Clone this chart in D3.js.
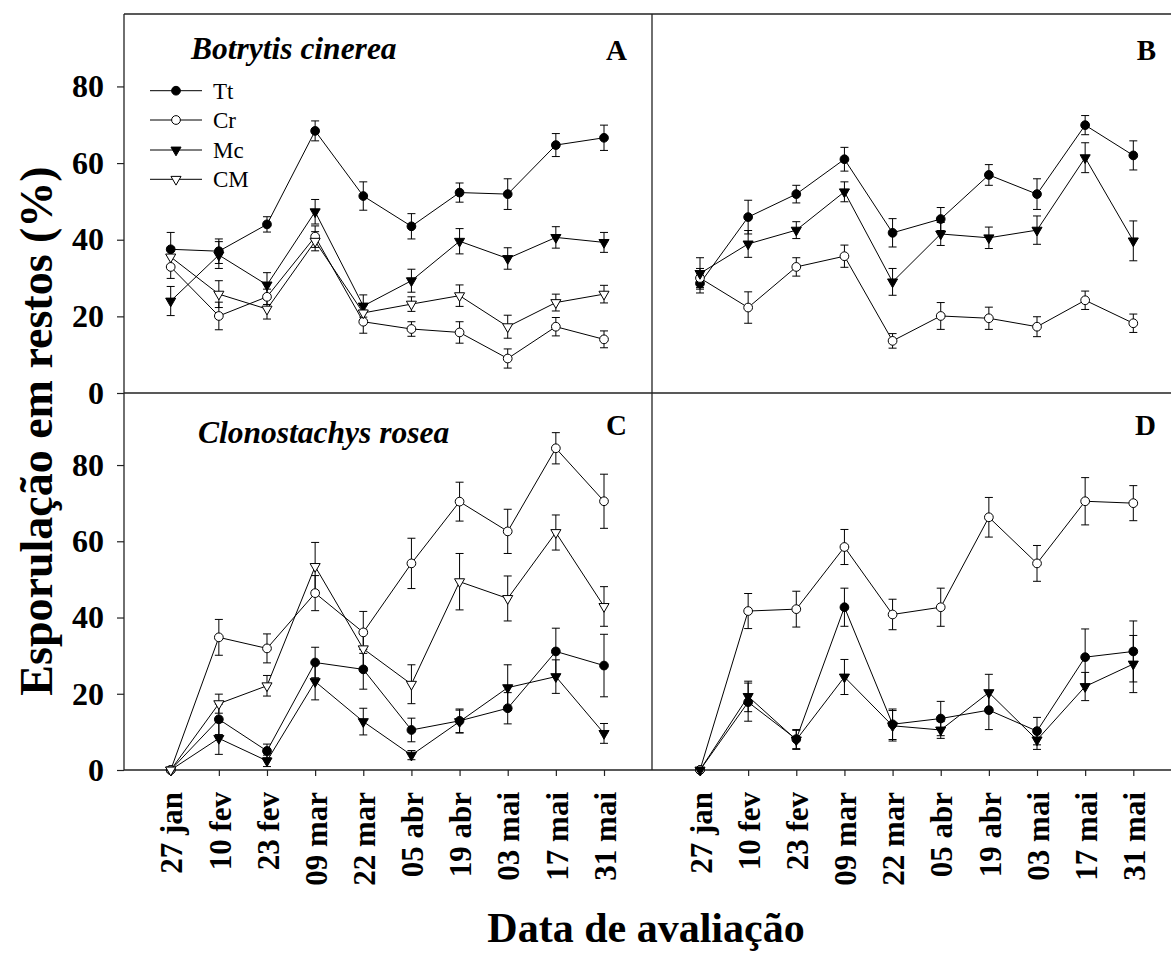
<!DOCTYPE html>
<html>
<head>
<meta charset="utf-8">
<script src="https://cdn.jsdelivr.net/npm/d3@7/dist/d3.min.js"></script>
<style>
  html, body { margin: 0; padding: 0; background: #fff; }
  svg { display: block; }
  text { font-family: "Liberation Serif", serif; fill: #000; }
</style>
</head>
<body>
<svg id="chart" width="1171" height="970"></svg>
<script>
// Evaluation dates (x categories)
const dates = ["27 jan", "10 fev", "23 fev", "09 mar", "22 mar", "05 abr", "19 abr", "03 mai", "17 mai", "31 mai"];
const yTicks = [0, 20, 40, 60, 80];
const seriesNames = ["Tt", "Cr", "Mc", "CM"];

// Panel A – Botrytis cinerea, first assessment
const aTt    = [37.5, 37.0, 44.0, 68.4, 51.4, 43.5, 52.3, 51.9, 64.7, 66.6];
const aTtErr = [4.4, 3.2, 2.0, 2.6, 3.7, 3.3, 2.5, 4.0, 3.0, 3.3];
const aCr    = [32.9, 20.1, 25.1, 40.8, 18.6, 16.7, 15.8, 9.0, 17.3, 14.0];
const aCrErr = [3.0, 3.6, 2.0, 2.8, 3.0, 1.9, 2.8, 2.5, 2.4, 2.2];
const aMc    = [24.0, 36.0, 28.2, 47.3, 22.7, 29.3, 39.6, 35.1, 40.6, 39.3];
const aMcErr = [3.8, 3.5, 3.2, 3.2, 2.9, 3.0, 3.3, 2.8, 2.8, 2.6];
const aCM    = [35.5, 25.8, 21.9, 39.6, 20.9, 23.2, 25.4, 17.3, 23.6, 25.8];
const aCMErr = [2.5, 3.5, 2.6, 2.5, 2.0, 1.9, 2.8, 3.0, 2.2, 2.3];

// Panel B – Botrytis cinerea, second assessment
const bTt    = [28.6, 45.9, 51.9, 61.0, 41.8, 45.4, 56.9, 51.9, 69.9, 62.0];
const bTtErr = [2.5, 4.4, 2.3, 3.1, 3.7, 3.0, 2.7, 4.0, 2.5, 3.8];
const bCr    = [30.0, 22.3, 32.9, 35.7, 13.6, 20.1, 19.5, 17.3, 24.2, 18.2];
const bCrErr = [2.5, 4.1, 2.4, 2.9, 1.9, 3.5, 2.9, 2.6, 2.4, 2.4];
const bMc    = [31.2, 38.9, 42.5, 52.5, 29.0, 41.5, 40.5, 42.5, 61.4, 39.7];
const bMcErr = [4.1, 3.5, 2.2, 2.6, 3.5, 3.0, 2.8, 3.7, 3.9, 5.2];

// Panel C – Clonostachys rosea, first assessment
const cTt    = [0, 13.3, 5.0, 28.2, 26.4, 10.5, 12.9, 16.2, 31.1, 27.4];
const cTtErr = [0, 4.0, 1.8, 4.0, 5.2, 3.1, 3.1, 4.1, 6.1, 8.2];
const cCr    = [0, 34.8, 31.9, 46.4, 36.1, 54.2, 70.4, 62.6, 84.4, 70.5];
const cCrErr = [0, 4.7, 3.8, 4.6, 5.5, 6.6, 5.1, 5.8, 4.1, 7.1];
const cMc    = [0, 8.3, 2.4, 23.2, 12.7, 3.9, 12.7, 21.6, 24.5, 9.6];
const cMcErr = [0, 4.2, 1.5, 4.8, 3.5, 1.2, 3.0, 6.0, 4.4, 2.6];
const cCM    = [0, 17.4, 22.1, 53.4, 31.8, 22.5, 49.4, 45.0, 62.3, 42.9];
const cCMErr = [0, 2.5, 2.7, 6.3, 5.0, 5.1, 7.4, 5.9, 4.6, 5.2];

// Panel D – Clonostachys rosea, second assessment
const dTt    = [0, 17.8, 8.1, 42.7, 12.0, 13.5, 15.7, 10.2, 29.6, 31.1];
const dTtErr = [0, 5.0, 2.5, 5.0, 4.0, 4.5, 5.1, 3.6, 7.4, 8.0];
const dCr    = [0, 41.7, 42.2, 58.5, 40.8, 42.7, 66.3, 54.2, 70.5, 70.0];
const dCrErr = [0, 4.6, 4.7, 4.6, 4.0, 5.0, 5.2, 4.7, 6.2, 4.6];
const dMc    = [0, 19.3, 7.9, 24.4, 11.6, 10.5, 20.3, 7.9, 21.9, 27.8];
const dMcErr = [0, 4.0, 2.5, 4.6, 4.0, 2.2, 4.8, 2.5, 3.7, 7.5];

// Marker styles per treatment
const markerStyle = {
  Tt: { shape: "circle",   fill: "#000" },
  Cr: { shape: "circle",   fill: "#fff" },
  Mc: { shape: "triangle", fill: "#000" },
  CM: { shape: "triangle", fill: "#fff" }
};

const panels = [
  { id: "A", col: 0, row: 0, title: "Botrytis cinerea", legend: true,
    series: [["Tt", aTt, aTtErr], ["Cr", aCr, aCrErr], ["Mc", aMc, aMcErr], ["CM", aCM, aCMErr]] },
  { id: "B", col: 1, row: 0,
    series: [["Tt", bTt, bTtErr], ["Cr", bCr, bCrErr], ["Mc", bMc, bMcErr]] },
  { id: "C", col: 0, row: 1, title: "Clonostachys rosea",
    series: [["Tt", cTt, cTtErr], ["Cr", cCr, cCrErr], ["Mc", cMc, cMcErr], ["CM", cCM, cCMErr]] },
  { id: "D", col: 1, row: 1,
    series: [["Tt", dTt, dTtErr], ["Cr", dCr, dCrErr], ["Mc", dMc, dMcErr]] }
];

const FONT = "Liberation Serif, serif";
const svg = d3.select("#chart");
svg.append("rect").attr("width", 1171).attr("height", 970).attr("fill", "#fff");

// Layout of the 2x2 grid
const frameLeft = 124, divider = 652;
const rowTop = [14, 393], rowBottom = [393, 770];
const xRanges = [[170.7, 604], [700, 1133.3]];
const yMax = 98.9;

const xScales = xRanges.map(r => d3.scalePoint().domain(dates).range(r).padding(0));
const yScales = [0, 1].map(i => d3.scaleLinear().domain([0, yMax]).range([rowBottom[i], rowTop[i]]));

const frameColor = "#222";

// Panel frame lines
const frame = svg.append("g").attr("stroke", frameColor).attr("stroke-width", 1.3).attr("fill", "none");
frame.append("line").attr("x1", frameLeft).attr("x2", 1171).attr("y1", rowTop[0]).attr("y2", rowTop[0]);
frame.append("line").attr("x1", frameLeft).attr("x2", 1171).attr("y1", 393).attr("y2", 393);
frame.append("line").attr("x1", frameLeft).attr("x2", 1171).attr("y1", 770).attr("y2", 770);
frame.append("line").attr("x1", frameLeft).attr("x2", frameLeft).attr("y1", rowTop[0]).attr("y2", 770);
frame.append("line").attr("x1", divider).attr("x2", divider).attr("y1", rowTop[0]).attr("y2", 770);

// Y axes (left side, one per row)
[0, 1].forEach(i => {
  const g = svg.append("g").attr("transform", `translate(${frameLeft},0)`)
    .attr("font-family", FONT)
    .call(d3.axisLeft(yScales[i]).tickValues(yTicks).tickSize(7).tickPadding(13).tickFormat(d3.format("d")));
  g.attr("font-family", FONT);
  g.select(".domain").remove();
  g.selectAll(".tick line").attr("stroke", frameColor).attr("stroke-width", 1.2);
  g.selectAll(".tick text")
    .attr("font-family", FONT)
    .attr("font-weight", "bold").attr("font-size", 32).attr("fill", "#000");
});

// X axes (bottom row only)
[0, 1].forEach(c => {
  const g = svg.append("g").attr("transform", `translate(0,${rowBottom[1]})`)
    .call(d3.axisBottom(xScales[c]).tickSize(6).tickPadding(0));
  g.attr("font-family", FONT);
  g.select(".domain").remove();
  g.selectAll(".tick line").attr("stroke", frameColor).attr("stroke-width", 1.2);
  g.selectAll(".tick text")
    .attr("font-family", FONT)
    .attr("font-weight", "bold").attr("font-size", 31).attr("fill", "#000")
    .attr("text-anchor", "end")
    .attr("transform", "translate(0,22) rotate(-90)")
    .attr("x", 0).attr("y", 0).attr("dy", "0.36em");
});

function markerPath(name) {
  const st = markerStyle[name];
  if (st.shape === "circle") return d3.symbol(d3.symbolCircle, 60)();
  return d3.symbol(d3.symbolTriangle, 44)();
}

function drawMarker(sel, name) {
  const st = markerStyle[name];
  sel.append("path")
    .attr("d", markerPath(name))
    .attr("transform", d => `${d.t}${st.shape === "triangle" ? " rotate(180)" : ""}`)
    .attr("fill", st.fill).attr("stroke", "#000").attr("stroke-width", 1);
}

panels.forEach(p => {
  const x = xScales[p.col], y = yScales[p.row];
  const g = svg.append("g");
  const lineGen = d3.line().x(d => x(d.date)).y(d => y(d.v));

  const data = p.series.map(([name, vals, errs]) => ({
    name,
    pts: dates.map((dt, i) => ({ date: dt, v: vals[i], e: errs[i] }))
  }));

  // error bars
  data.forEach(s => {
    const eg = g.append("g").attr("stroke", "#000").attr("stroke-width", 1);
    s.pts.filter(d => d.e > 0).forEach(d => {
      const cx = x(d.date), y1 = y(d.v + d.e), y2 = y(Math.max(0, d.v - d.e));
      eg.append("line").attr("x1", cx).attr("x2", cx).attr("y1", y1).attr("y2", y2);
      eg.append("line").attr("x1", cx - 4).attr("x2", cx + 4).attr("y1", y1).attr("y2", y1);
      eg.append("line").attr("x1", cx - 4).attr("x2", cx + 4).attr("y1", y2).attr("y2", y2);
    });
  });

  // connecting lines
  data.forEach(s => {
    g.append("path").datum(s.pts).attr("d", lineGen)
      .attr("fill", "none").attr("stroke", "#000").attr("stroke-width", 1);
  });

  // markers
  data.forEach(s => {
    const mg = g.append("g");
    const pts = s.pts.map(d => ({ t: `translate(${x(d.date)},${y(d.v)})` }));
    drawMarker(mg.selectAll("g").data(pts).join("g"), s.name);
  });

  // panel letter
  const letterRight = p.col === 0 ? 627 : 1156;
  svg.append("text")
    .attr("x", letterRight).attr("y", rowTop[p.row] + (p.row === 0 ? 46 : 42))
    .attr("font-family", FONT)
    .attr("text-anchor", "end").attr("font-weight", "bold").attr("font-size", 29)
    .text(p.id);

  // organism title
  if (p.title) {
    svg.append("text")
      .attr("x", p.row === 0 ? 191 : 198).attr("y", rowTop[p.row] + (p.row === 0 ? 45 : 50))
      .attr("font-family", FONT)
      .attr("font-weight", "bold").attr("font-style", "italic").attr("font-size", 31.5)
      .text(p.title);
  }

  // legend
  if (p.legend) {
    const lg = svg.append("g");
    const rowsY = [90.7, 120, 150, 179.3];
    seriesNames.forEach((name, i) => {
      const ly = rowsY[i];
      lg.append("line").attr("x1", 150).attr("x2", 202).attr("y1", ly).attr("y2", ly)
        .attr("stroke", "#000").attr("stroke-width", 1);
      drawMarker(lg.append("g").datum({ t: `translate(176,${ly})` }), name);
      lg.append("text").attr("x", 213).attr("y", ly).attr("dy", "0.35em")
        .attr("font-family", FONT)
        .attr("font-size", 23).text(name);
    });
  }
});

// Axis titles
svg.append("text")
  .attr("transform", "translate(52,431) rotate(-90)")
  .attr("font-family", FONT)
  .attr("text-anchor", "middle").attr("font-weight", "bold").attr("font-size", 46)
  .text("Esporulação em restos (%)");

svg.append("text")
  .attr("x", 646).attr("y", 942)
  .attr("font-family", FONT)
  .attr("text-anchor", "middle").attr("font-weight", "bold").attr("font-size", 42)
  .text("Data de avaliação");
</script>
</body>
</html>
